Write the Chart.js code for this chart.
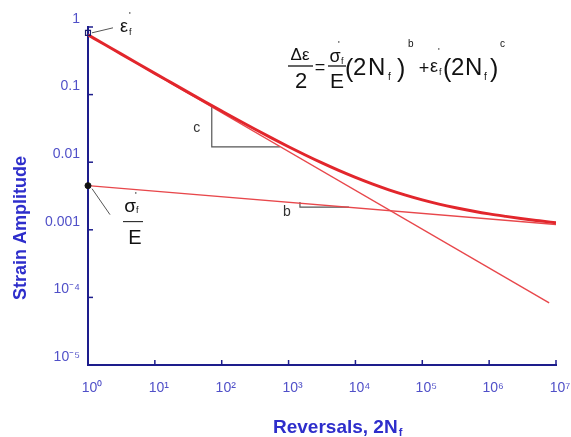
<!DOCTYPE html>
<html>
<head>
<meta charset="utf-8">
<script src="https://cdn.jsdelivr.net/npm/chart.js@4.4.0/dist/chart.umd.min.js"></script>
<style>
  html, body { margin: 0; padding: 0; background: #fff; }
</style>
</head>
<body>
<canvas id="fatigue" width="571" height="437"></canvas>
<script>
// axis ticks
const xTicks = [1, 10, 100, 1000, 1e4, 1e5, 1e6, 1e7];
const xTickLabels = ["10⁰", "10¹", "10²", "10³", "10⁴", "10⁵", "10⁶", "10⁷"];
const yTicks = [1e-5, 1e-4, 1e-3, 1e-2, 0.1, 1];
const yTickLabels = ["10⁻⁵", "10⁻⁴", "0.001", "0.01", "0.1", "1"];

// total strain curve, read at quarter decades
const totalX = [1, 1.78, 3.16, 5.62, 10, 17.8, 31.6, 56.2, 100, 178, 316, 562, 1000, 1778, 3162, 5623,
  1e4, 17783, 31623, 56234, 1e5, 177828, 316228, 562341, 1e6, 1778279, 3162278, 5623413, 1e7];
const totalY = [0.7645, 0.5506, 0.3967, 0.286, 0.2064, 0.1492, 0.108, 0.0784, 0.0571, 0.0417, 0.0307, 0.0227,
  0.01694, 0.01278, 0.00975, 0.00755, 0.00595, 0.00477, 0.0039, 0.00326, 0.00277, 0.0024, 0.00212, 0.0019,
  0.00172, 0.00158, 0.00146, 0.00136, 0.00127];

// elastic and plastic straight lines
const elasticX = [1, 1e7];
const elasticY = [0.0045, 0.0012];
const plasticX = [1, 7.9e6];
const plasticY = [0.76, 0.000083];

// slope triangles
const slopeCX = [71, 71, 741];
const slopeCY = [0.0656, 0.0168, 0.0168];
const slopeBX = [1480, 1480, 8000];
const slopeBY = [0.00258, 0.00217, 0.00217];

// intercept markers
const epsX = [1];
const epsY = [0.82];
const sigX = [1];
const sigY = [0.0045];

const AXIS = "#1d1d8c";
const TICKTXT = "#5050c8";
const TITLE = "#2e2ecb";
const RED = "#e2262c";
const FONT = "'Liberation Sans', Arial, sans-serif";

function pts(xs, ys) {
  return xs.map((x, i) => ({ x: x, y: ys[i] }));
}

function txt(ctx, s, x, y, size, align, weight) {
  ctx.font = (weight || "normal") + " " + size + "px " + FONT;
  ctx.textAlign = align || "left";
  ctx.fillText(s, x, y);
}

function seg(ctx, x1, y1, x2, y2) {
  ctx.beginPath();
  ctx.moveTo(x1, y1);
  ctx.lineTo(x2, y2);
  ctx.stroke();
}

const annotate = {
  id: "annotate",
  afterDraw(chart) {
    const ctx = chart.ctx;
    const xs = chart.scales.x;
    const ys = chart.scales.y;
    const area = chart.chartArea;
    ctx.save();
    ctx.textBaseline = "alphabetic";

    // inward tick marks
    ctx.strokeStyle = AXIS;
    ctx.lineWidth = 1.5;
    for (const v of xTicks) {
      const px = xs.getPixelForValue(v);
      seg(ctx, px, area.bottom, px, area.bottom - 5);
    }
    for (const v of yTicks) {
      const py = ys.getPixelForValue(v);
      seg(ctx, area.left, py, area.left + 5, py);
    }

    // axis titles
    ctx.fillStyle = TITLE;
    ctx.save();
    ctx.translate(26, 228);
    ctx.rotate(-Math.PI / 2);
    txt(ctx, "Strain Amplitude", 0, 0, 18, "center", "bold");
    ctx.restore();
    txt(ctx, "Reversals, 2N", 273, 433, 19, "left", "bold");
    const w = ctx.measureText("Reversals, 2N").width;
    txt(ctx, "f", 273 + w + 1, 436, 11, "left", "bold");

    // leader lines to the intercepts
    ctx.strokeStyle = "#555";
    ctx.lineWidth = 1;
    const ex = xs.getPixelForValue(epsX[0]);
    const ey = ys.getPixelForValue(epsY[0]);
    seg(ctx, ex + 4, ey, ex + 25, ey - 5);
    const sx = xs.getPixelForValue(sigX[0]);
    const sy = ys.getPixelForValue(sigY[0]);
    seg(ctx, sx + 4, sy + 3, sx + 22, sy + 29);

    ctx.fillStyle = "#111";
    ctx.strokeStyle = "#111";
    // eps_f'
    txt(ctx, "ε", ex + 32, ey - 1, 18);
    txt(ctx, "f", ex + 41, ey + 2, 9);
    txt(ctx, "'", ex + 41, ey - 15, 9);
    // sigma_f' / E
    txt(ctx, "σ", sx + 42, sy + 26, 19, "center");
    txt(ctx, "f", sx + 48, sy + 27, 9);
    txt(ctx, "'", sx + 47, sy + 12, 9);
    seg(ctx, sx + 35, sy + 36, sx + 55, sy + 36);
    txt(ctx, "E", sx + 47, sy + 58, 20, "center");

    // slope labels
    ctx.fillStyle = "#333";
    txt(ctx, "c", xs.getPixelForValue(slopeCX[0]) - 15, ys.getPixelForValue(0.033) + 5, 14, "center");
    txt(ctx, "b", xs.getPixelForValue(slopeBX[0]) - 13, ys.getPixelForValue(slopeBY[1]) + 9, 14, "center");

    // strain-life equation
    ctx.fillStyle = "#111";
    ctx.lineWidth = 1.3;
    txt(ctx, "Δε", 300, 60, 17, "center");
    seg(ctx, 288, 66, 313, 66);
    txt(ctx, "2", 301, 88, 22, "center");
    txt(ctx, "=", 320, 73, 18, "center");
    txt(ctx, "σ", 335, 62, 18, "center");
    txt(ctx, "f", 341, 64, 9);
    txt(ctx, "'", 338, 47, 9);
    seg(ctx, 328, 66, 346, 66);
    txt(ctx, "E", 337, 88, 21, "center");
    txt(ctx, "(", 345, 77, 25);
    txt(ctx, "2", 353, 75, 24);
    txt(ctx, "N", 368, 75, 24);
    txt(ctx, "f", 388, 80, 10);
    txt(ctx, ")", 397, 77, 25);
    txt(ctx, "b", 408, 47, 10);
    txt(ctx, "+", 424, 74, 18, "center");
    txt(ctx, "ε", 430, 72, 18);
    txt(ctx, "f", 439, 75, 9);
    txt(ctx, "'", 438, 54, 9);
    txt(ctx, "(", 443, 77, 25);
    txt(ctx, "2", 451, 75, 24);
    txt(ctx, "N", 465, 75, 24);
    txt(ctx, "f", 484, 80, 10);
    txt(ctx, ")", 490, 77, 25);
    txt(ctx, "c", 500, 47, 10);

    ctx.restore();
  },
};

const chart = new Chart(document.getElementById("fatigue"), {
  type: "scatter",
  data: {
    datasets: [
      {
        label: "total",
        data: pts(totalX, totalY),
        showLine: true,
        borderColor: RED,
        borderWidth: 3,
        pointRadius: 0,
        cubicInterpolationMode: "monotone",
        order: 1,
      },
      {
        label: "elastic",
        data: pts(elasticX, elasticY),
        showLine: true,
        borderColor: "#e8474b",
        borderWidth: 1.4,
        pointRadius: 0,
        order: 2,
      },
      {
        label: "plastic",
        data: pts(plasticX, plasticY),
        showLine: true,
        borderColor: "#e8474b",
        borderWidth: 1.4,
        pointRadius: 0,
        order: 3,
      },
      {
        label: "slope c",
        data: pts(slopeCX, slopeCY),
        showLine: true,
        borderColor: "#555",
        borderWidth: 1.2,
        pointRadius: 0,
        order: 4,
      },
      {
        label: "slope b",
        data: pts(slopeBX, slopeBY),
        showLine: true,
        borderColor: "#555",
        borderWidth: 1.2,
        pointRadius: 0,
        order: 4,
      },
      {
        label: "eps",
        data: pts(epsX, epsY),
        pointStyle: "rect",
        pointRadius: 3.5,
        borderColor: "#1d1d6c",
        borderWidth: 1.2,
        backgroundColor: "rgba(0,0,0,0)",
        clip: false,
        order: 0,
      },
      {
        label: "sig",
        data: pts(sigX, sigY),
        pointRadius: 3,
        borderColor: "#111",
        backgroundColor: "#111",
        clip: false,
        order: 0,
      },
    ],
  },
  options: {
    responsive: false,
    animation: false,
    devicePixelRatio: 1,
    layout: { padding: { top: 27, right: 15, left: 0, bottom: 0 } },
    plugins: {
      legend: { display: false },
      tooltip: { enabled: false },
    },
    scales: {
      x: {
        type: "logarithmic",
        min: 1,
        max: 1e7,
        afterBuildTicks: (s) => { s.ticks = xTicks.map((v) => ({ value: v })); },
        afterFit: (s) => { s.height = 72; s.paddingLeft = 0; s.paddingRight = 0; },
        grid: { drawOnChartArea: false, drawTicks: false },
        border: { color: AXIS, width: 2 },
        ticks: {
          color: TICKTXT,
          font: { family: FONT, size: 14 },
          padding: 15,
          labelOffset: 4,
          maxRotation: 0,
          autoSkip: false,
          callback: (v, i) => xTickLabels[i],
        },
      },
      y: {
        type: "logarithmic",
        min: 1e-5,
        max: 1,
        afterBuildTicks: (s) => { s.ticks = yTicks.map((v) => ({ value: v })); },
        afterFit: (s) => { s.width = 88; s.paddingTop = 0; s.paddingBottom = 0; },
        grid: { drawOnChartArea: false, drawTicks: false },
        border: { color: AXIS, width: 2 },
        ticks: {
          color: TICKTXT,
          font: { family: FONT, size: 14 },
          padding: 8,
          labelOffset: -8,
          autoSkip: false,
          callback: (v, i) => yTickLabels[i],
        },
      },
    },
  },
  plugins: [annotate],
});
</script>
</body>
</html>
